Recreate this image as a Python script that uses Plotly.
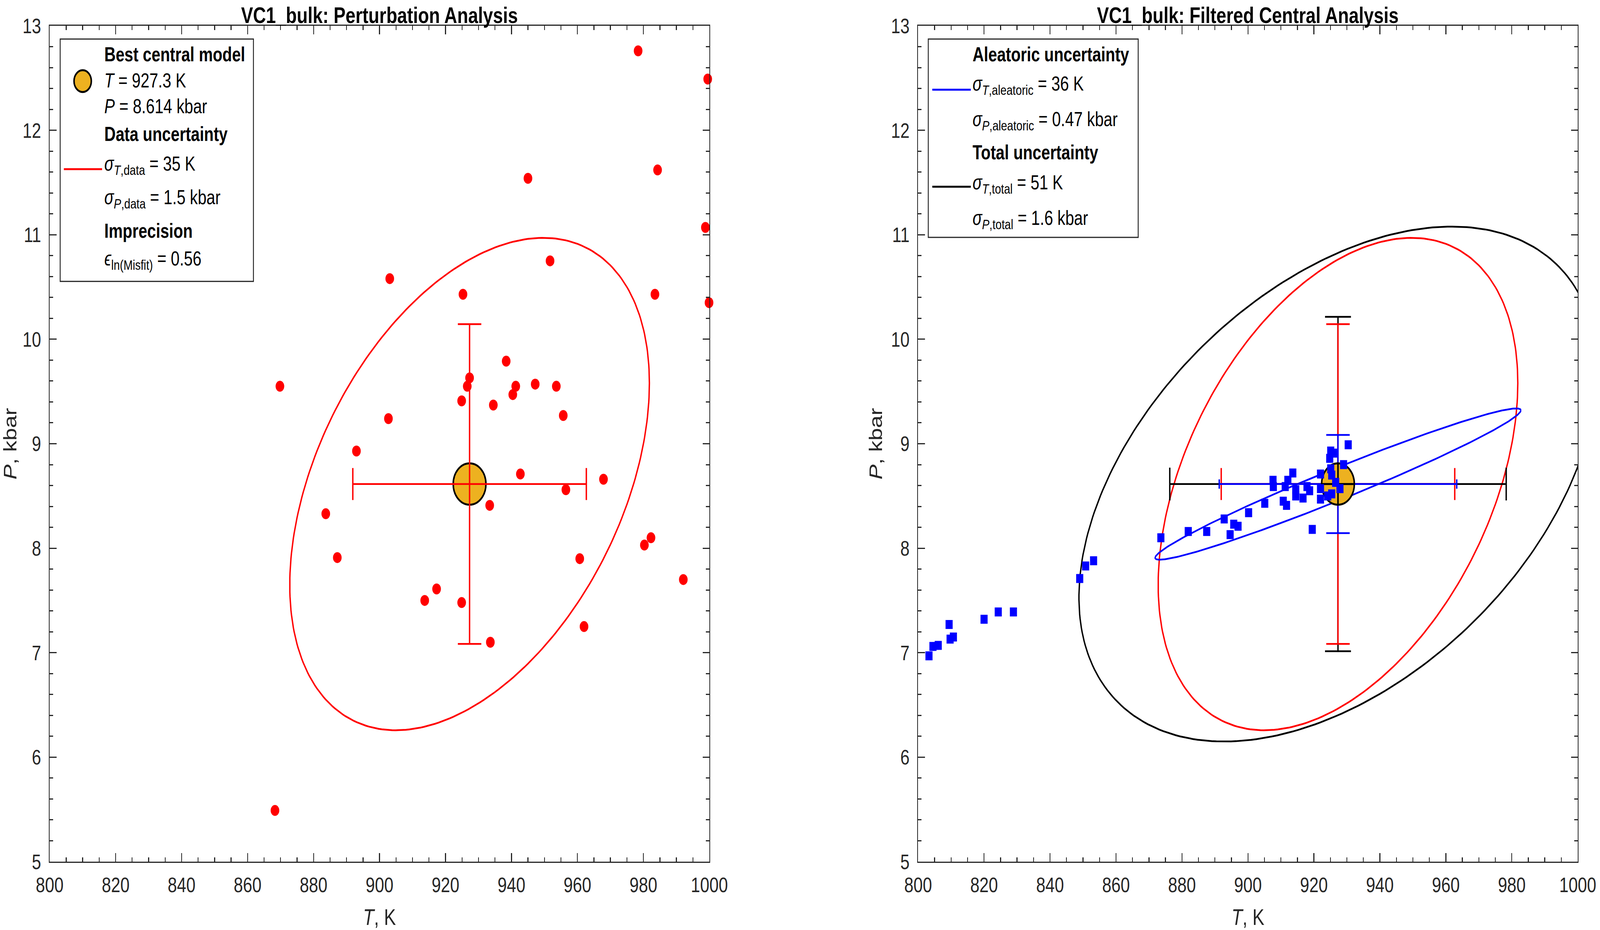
import numpy as np
import plotly.graph_objects as go
from plotly.subplots import make_subplots

# best central model
T_best = 927.3
P_best = 8.614

# perturbation runs (left panel)
pert_T = [869.8, 903.1, 925.3, 927.3, 926.6, 924.9, 934.5, 902.7, 978.4, 999.5,
          945.0, 984.3, 998.8, 951.7, 983.5, 999.9, 938.4, 941.3, 940.4, 947.2,
          953.6, 955.7, 893.0, 883.7, 887.2, 917.3, 913.7, 924.9, 933.4, 933.6,
          868.3, 942.7, 956.5, 967.9, 982.3, 980.3, 960.7, 992.1, 962.0]
pert_P = [9.55, 10.58, 10.43, 9.63, 9.55, 9.41, 9.37, 9.24, 12.76, 12.49,
          11.54, 11.62, 11.07, 10.75, 10.43, 10.35, 9.79, 9.55, 9.47, 9.57,
          9.55, 9.27, 8.93, 8.33, 7.91, 7.61, 7.50, 7.48, 8.41, 7.10,
          5.49, 8.71, 8.56, 8.66, 8.10, 8.03, 7.90, 7.70, 7.25]

# filtered central runs (right panel)
filt_T = [803.3, 804.5, 806.1, 809.4, 809.7, 810.7, 820.0, 824.3, 828.9, 849.0,
          850.8, 853.2, 873.6, 881.9, 887.5, 892.8, 895.7, 897.0, 894.6, 900.2,
          905.1, 930.4, 925.1, 926.4, 924.8, 929.0, 925.1, 913.6, 922.0, 912.1,
          907.6, 907.7, 911.3, 914.5, 917.9, 918.7, 922.0, 925.4, 926.6, 914.5,
          916.7, 922.0, 924.2, 910.7, 911.7, 919.5, 925.4, 927.9]
filt_P = [6.97, 7.06, 7.07, 7.27, 7.13, 7.15, 7.32, 7.39, 7.39, 7.71,
          7.83, 7.88, 8.10, 8.16, 8.16, 8.28, 8.23, 8.21, 8.13, 8.34,
          8.43, 8.99, 8.93, 8.91, 8.86, 8.80, 8.76, 8.72, 8.71, 8.65,
          8.65, 8.59, 8.59, 8.56, 8.59, 8.55, 8.57, 8.70, 8.63, 8.50,
          8.48, 8.47, 8.50, 8.45, 8.41, 8.18, 8.52, 8.57]

# uncertainties (sigma_T [K], sigma_P [kbar], correlation)
sig_T_data, sig_P_data, rho_data = 35.4, 1.53, 0.41
sig_T_ale, sig_P_ale, rho_ale = 36.0, 0.47, 0.975
sig_T_tot, sig_P_tot, rho_tot = 51.0, 1.60, 0.44
eps_misfit = 0.56
ELL_K = 1.54

RED = "#FF0000"
BLUE = "#0000FF"
BLACK = "#000000"
ORANGE = "#EDB120"
AXC = "#262626"
FONT = "Liberation Sans, Arial, sans-serif"

W, H = 5184, 2382

# pixel geometry of the two axes boxes
PX_LEFT = [161, 2978]
PX_W = 2140
PX_BOT = 2211
PX_H = 2145


def ellipse(sT, sP, rho, n=300):
    t = np.linspace(0, 2 * np.pi, n)
    dT = ELL_K * sT * np.cos(t)
    dP = ELL_K * sP * (rho * np.cos(t) + np.sqrt(1 - rho ** 2) * np.sin(t))
    return T_best + dT, P_best + dP


fig = make_subplots(rows=1, cols=2, horizontal_spacing=0.1366)


def add_ellipse(sT, sP, rho, color, col):
    ex, ey = ellipse(sT, sP, rho)
    fig.add_trace(go.Scatter(x=ex, y=ey, mode="lines", line=dict(color=color, width=4.5),
                             hoverinfo="skip", showlegend=False), row=1, col=col)


def add_errbars(sT, sP, color, wx, wy, col):
    fig.add_trace(go.Scatter(
        x=[T_best], y=[P_best], mode="markers",
        marker=dict(size=1, color="rgba(0,0,0,0)"),
        error_x=dict(type="data", array=[sT], color=color, thickness=4.5, width=wx),
        error_y=dict(type="data", array=[sP], color=color, thickness=4.5, width=wy),
        hoverinfo="skip", showlegend=False), row=1, col=col)


def add_best(symbol, col):
    fig.add_trace(go.Scatter(
        x=[T_best], y=[P_best], mode="markers",
        marker=dict(size=106, color=ORANGE, symbol=symbol, line=dict(color=BLACK, width=5)),
        showlegend=False), row=1, col=col)


# ---- left: perturbation analysis
add_ellipse(sig_T_data, sig_P_data, rho_data, RED, 1)
add_best("circle", 1)
add_errbars(sig_T_data, sig_P_data, RED, 41, 38, 1)
fig.add_trace(go.Scatter(x=pert_T, y=pert_P, mode="markers", cliponaxis=False,
                         marker=dict(size=28, color=RED), showlegend=False), row=1, col=1)

# ---- right: filtered central analysis
add_ellipse(sig_T_tot, sig_P_tot, rho_tot, BLACK, 2)
add_ellipse(sig_T_data, sig_P_data, rho_data, RED, 2)
add_ellipse(sig_T_ale, sig_P_ale, rho_ale, BLUE, 2)
add_errbars(sig_T_tot, sig_P_tot, BLACK, 42, 42, 2)
add_errbars(sig_T_data, sig_P_data, RED, 41, 38, 2)
add_errbars(sig_T_ale, sig_P_ale, BLUE, 12, 38, 2)
add_best("circle-cross", 2)
fig.add_trace(go.Scatter(x=filt_T, y=filt_P, mode="markers", cliponaxis=False,
                         marker=dict(size=23, color=BLUE, symbol="square"),
                         showlegend=False), row=1, col=2)

axis_common = dict(
    showline=True, linewidth=3, linecolor=AXC, mirror="allticks",
    ticks="inside", ticklen=22, tickwidth=3, tickcolor=AXC,
    showgrid=False, zeroline=False,
    tickfont=dict(size=54, color=AXC, family=FONT),
)
for col in (1, 2):
    fig.update_xaxes(range=[800, 1000], tick0=800, dtick=20,
                     minor=dict(ticks="inside", dtick=5, ticklen=11, tickwidth=3,
                                tickcolor=AXC, showgrid=False),
                     title=dict(text="<i>T</i>, K", font=dict(size=58, color=AXC, family=FONT),
                                standoff=34),
                     ticklabelstandoff=10,
                     row=1, col=col, **axis_common)
    fig.update_yaxes(range=[5, 13], tick0=5, dtick=1,
                     minor=dict(ticks="inside", dtick=0.2, ticklen=11, tickwidth=3,
                                tickcolor=AXC, showgrid=False),
                     title=dict(text="<i>P</i>, kbar", font=dict(size=58, color=AXC, family=FONT),
                                standoff=10),
                     ticklabelstandoff=14,
                     row=1, col=col, **axis_common)


def dx(px, col):
    return (px - PX_LEFT[col - 1]) / PX_W


def dy(py):
    return (PX_BOT - py) / PX_H


def refs(col):
    return ("x domain", "y domain") if col == 1 else ("x2 domain", "y2 domain")


def legend_box(x0, x1, y0, y1, col):
    xr, yr = refs(col)
    fig.add_shape(type="rect", xref=xr, yref=yr, x0=dx(x0, col), x1=dx(x1, col),
                  y0=dy(y1), y1=dy(y0), line=dict(color=AXC, width=3),
                  fillcolor="white", layer="above")


def legend_line(x0, x1, y, color, col):
    xr, yr = refs(col)
    fig.add_shape(type="line", xref=xr, yref=yr, x0=dx(x0, col), x1=dx(x1, col),
                  y0=dy(y), y1=dy(y), line=dict(color=color, width=5), layer="above")


def legend_text(txt, x, y, col):
    xr, yr = refs(col)
    fig.add_annotation(text=txt, xref=xr, yref=yr, x=dx(x, col), y=dy(y),
                       xanchor="left", yanchor="middle", showarrow=False,
                       font=dict(size=51, color=BLACK, family=FONT))


# left legend
legend_box(195, 822, 100, 722, 1)
xr, yr = refs(1)
fig.add_shape(type="circle", xref=xr, yref=yr, xsizemode="pixel", ysizemode="pixel",
              xanchor=dx(268, 1), yanchor=dy(208), x0=-28, x1=28, y0=-28, y1=28,
              fillcolor=ORANGE, line=dict(color=BLACK, width=5), layer="above")
legend_line(207, 331, 434, RED, 1)
left_lines = [
    ("<b>Best central model</b>", 145),
    (f"<i>T</i> = {T_best:.1f} K", 212),
    (f"<i>P</i> = {P_best:.3f} kbar", 278),
    ("<b>Data uncertainty</b>", 349),
    (f"<i>σ</i><sub><i>T</i>,data</sub> = {sig_T_data:.0f} K", 429),
    (f"<i>σ</i><sub><i>P</i>,data</sub> = {sig_P_data:.1f} kbar", 515),
    ("<b>Imprecision</b>", 597),
    (f"<i>ϵ</i><sub>ln(Misfit)</sub> = {eps_misfit:.2f}", 673),
]
for txt, y in left_lines:
    legend_text(txt, 336, y - 5, 1)

# right legend
legend_box(3011, 3692, 100, 609, 2)
legend_line(3024, 3149, 230, BLUE, 2)
legend_line(3024, 3149, 479, BLACK, 2)
right_lines = [
    ("<b>Aleatoric uncertainty</b>", 145),
    (f"<i>σ</i><sub><i>T</i>,aleatoric</sub> = {sig_T_ale:.0f} K", 224),
    (f"<i>σ</i><sub><i>P</i>,aleatoric</sub> = {sig_P_ale:.2f} kbar", 315),
    ("<b>Total uncertainty</b>", 396),
    (f"<i>σ</i><sub><i>T</i>,total</sub> = {sig_T_tot:.0f} K", 477),
    (f"<i>σ</i><sub><i>P</i>,total</sub> = {sig_P_tot:.1f} kbar", 568),
]
for txt, y in right_lines:
    legend_text(txt, 3153, y - 5, 2)

# panel titles
for col, title in ((1, "VC1_bulk: Perturbation Analysis"), (2, "VC1_bulk: Filtered Central Analysis")):
    xr, yr = refs(col)
    fig.add_annotation(text=f"<b>{title}</b>", xref=xr, yref=yr, x=0.5, y=1, yshift=28,
                       xanchor="center", yanchor="middle", showarrow=False,
                       font=dict(size=58, color=BLACK, family=FONT))

fig.update_layout(
    width=W, height=H,
    margin=dict(l=PX_LEFT[0], r=W - PX_LEFT[1] - PX_W, t=PX_BOT - PX_H, b=H - PX_BOT),
    paper_bgcolor="white", plot_bgcolor="white",
    font=dict(family=FONT, color=AXC),
    showlegend=False,
)

# the window may be narrower than the figure: scale the page so the whole figure shows
fit_js = (
    "document.body.style.margin='0';document.body.style.overflow='hidden';"
    "var gd=document.getElementById('{plot_id}');"
    "var sx=Math.min(1, window.innerWidth/%d), sy=Math.min(1, window.innerHeight/%d);"
    "gd.style.transformOrigin='0 0';"
    "gd.style.transform='scale('+sx+','+sy+')';" % (W, H)
)
fig.write_html("out.html", post_script=fit_js, config={"displayModeBar": False})
